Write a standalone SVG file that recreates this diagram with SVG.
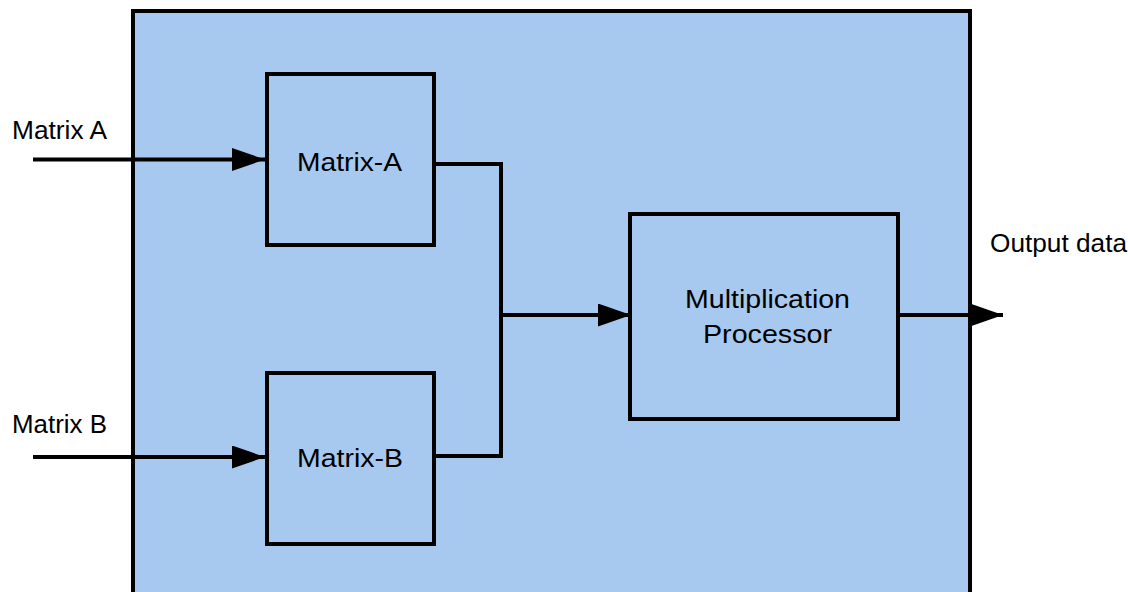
<svg xmlns="http://www.w3.org/2000/svg" width="1128" height="592" viewBox="0 0 1128 592">
<style>
.box{fill:#a7c9ef;stroke:#000;stroke-width:4}
.line{fill:none;stroke:#000;stroke-width:4;stroke-linejoin:miter;stroke-linecap:butt}
text{font-family:"Liberation Sans",Arial,sans-serif;font-size:25px;fill:#000}
</style>
<defs>
<marker id="arr" markerUnits="userSpaceOnUse" markerWidth="34" markerHeight="24" refX="33" refY="11.5" orient="auto">
<path d="M0,0 L33,11.5 L0,23 Z" fill="#000"/>
</marker>
</defs>
<rect width="1128" height="592" fill="#fff"/>
<g id="system">
<rect class="box" x="133" y="11" width="837" height="600" stroke-width="4.5"/>
</g>
<g id="matrix-a">
<rect class="box" x="267" y="74" width="167" height="171"/>
<text x="297" y="171" textLength="105" lengthAdjust="spacingAndGlyphs">Matrix-A</text>
</g>
<g id="matrix-b">
<rect class="box" x="267" y="373" width="167" height="171"/>
<text x="297" y="467" textLength="106" lengthAdjust="spacingAndGlyphs">Matrix-B</text>
</g>
<g id="processor">
<rect class="box" x="630" y="214" width="268" height="205"/>
<text x="685" y="308" textLength="165" lengthAdjust="spacingAndGlyphs">Multiplication</text>
<text x="703" y="343" textLength="129" lengthAdjust="spacingAndGlyphs">Processor</text>
</g>
<g id="labels">
<text x="12" y="139" textLength="95" lengthAdjust="spacingAndGlyphs">Matrix A</text>
<text x="12" y="433" textLength="95" lengthAdjust="spacingAndGlyphs">Matrix B</text>
<text x="990" y="252" textLength="137" lengthAdjust="spacingAndGlyphs">Output data</text>
</g>
<g id="connectors">
<path class="line" d="M33,159.5 H265" marker-end="url(#arr)"/>
<path class="line" d="M33,457 H265" marker-end="url(#arr)"/>
<path class="line" d="M434,164 H501 V456 H434"/>
<path class="line" d="M501,315 H631" marker-end="url(#arr)"/>
<path class="line" d="M898,315 H1003" marker-end="url(#arr)"/>
</g>
</svg>
